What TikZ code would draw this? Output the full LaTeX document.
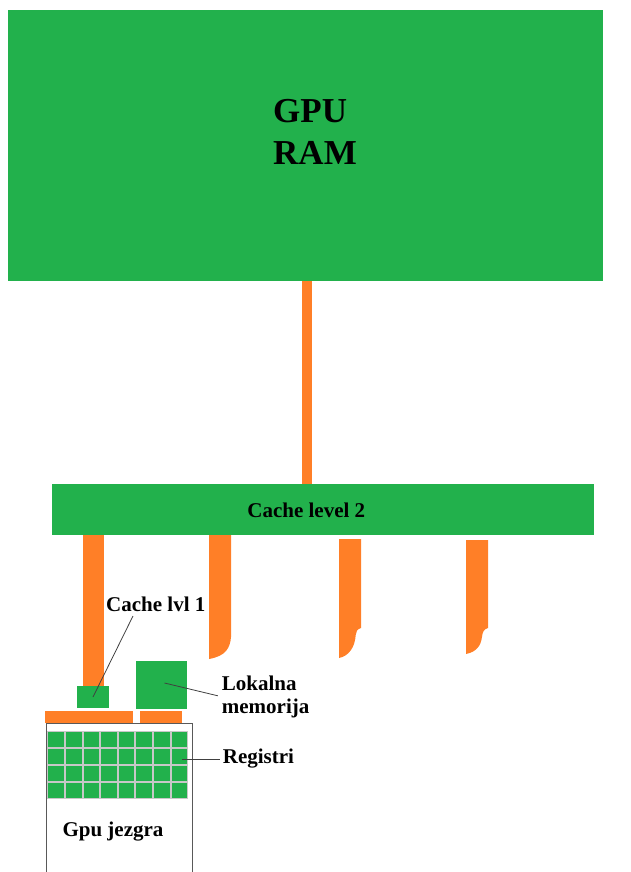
\documentclass[tikz,border=0pt]{standalone}
\usepackage{fontspec}
\setmainfont{Liberation Serif}
\usepackage{tikz}
\usetikzlibrary{positioning}

\definecolor{paintgreen}{RGB}{34,177,76}
\definecolor{paintorange}{RGB}{255,127,39}
\definecolor{gridgray}{RGB}{200,200,200}

\begin{document}
\begin{tikzpicture}[
	x=1pt, y=-1pt,
	block/.style={fill=paintgreen, inner sep=0pt, outer sep=0pt},
	title/.style={font=\fontsize{35}{42}\selectfont\bfseries, align=left, inner sep=0pt},
	lbl/.style={font=\fontsize{21}{23}\selectfont\bfseries, align=left, inner sep=0pt},
	bus/.style={fill=paintorange},
	pointer/.style={draw=black!75, line width=0.8pt},
	corebox/.style={draw=black!65, line width=1.1pt, inner sep=0pt, anchor=north west}
	]
	
	\useasboundingbox (0,0) rectangle (631,872);
	\clip (0,0) rectangle (631,872);
	
	% -------------------------------
	% GPU RAM
	% -------------------------------
	\node[block, minimum width=595, minimum height=271] (ram) at (305.5,145.5) {};
	\node[title] (ramtxt) at (315,132) {GPU\\RAM};
	
	% -------------------------------
	% CACHE LEVEL 2
	% -------------------------------
	\node[block, minimum width=542, minimum height=51] (l2) at (323,509.5) {};
	\node[lbl, anchor=base] (l2txt) at (306.3,517.3) {Cache level 2};
	
	\fill[bus] (302,0 |- ram.south) rectangle (312,0 |- l2.north);
	
	% -------------------------------
	% JEZGRA
	% -------------------------------
	\node[corebox, minimum width=146, minimum height=200] (core) at (46,723) {};
	\node[block, minimum width=32, minimum height=22, anchor=north west] (l1) at (77,686) {};
	\node[block, minimum width=51, minimum height=48, anchor=north west] (lmem) at (136,661) {};
	\fill[bus] (45,711) rectangle (133,0 |- core.north);
	\fill[bus] (140,711) rectangle (182,0 |- core.north);
	
	% registri
	\fill[gridgray] (47.3,731) rectangle (188.3,799);
	\foreach \c in {0,...,7}
	\foreach \r in {0,...,3}
	\fill[paintgreen] ({48.3+17.625*\c},{732+17*\r}) rectangle ++(15.6,15);
	
	\node[lbl, anchor=base] (coretxt) at (113,836.7) {Gpu jezgra};
	
	% -------------------------------
	% VEZE PREMA L2
	% -------------------------------
	\fill[bus] (83,0 |- l2.south) rectangle (104,0 |- l1.north);
	\fill[bus] (209,0 |- l2.south) -- (231,0 |- l2.south) -- (231,637)
		.. controls (230,648) and (226,656) .. (209,659) -- cycle;
	\fill[bus] (339,539) -- (361,539) -- (361,628)
		.. controls (357,629) and (356,632) .. (355.7,635)
		.. controls (355,647) and (349,656) .. (339,658) -- cycle;
	\fill[bus] (466,540) -- (488,540) -- (488,628)
		.. controls (484,629) and (482.5,632) .. (482,636.7)
		.. controls (481,646) and (476,652) .. (466,654) -- cycle;
	
	% -------------------------------
	% OZNAKE
	% -------------------------------
	\node[lbl, anchor=base west] (l1txt) at (106,611.7) {Cache lvl 1};
	\node[lbl, anchor=north west] (lmemtxt) at (221.7,675.5) {Lokalna\\memorija};
	\node[lbl, anchor=base west] (regtxt) at (222.7,763) {Registri};
	
	\coordinate (l1pt) at (133,616);
	\coordinate (regpt) at (182,759);
	
	\draw[pointer] (l1pt) -- (l1.center);
	\draw[pointer, shorten >=4pt] ([xshift=3pt,yshift=2pt]lmem.center) -- (lmemtxt.west);
	\draw[pointer, shorten >=3pt] (regpt) -- (regpt -| regtxt.west);
	
\end{tikzpicture}
\end{document}
